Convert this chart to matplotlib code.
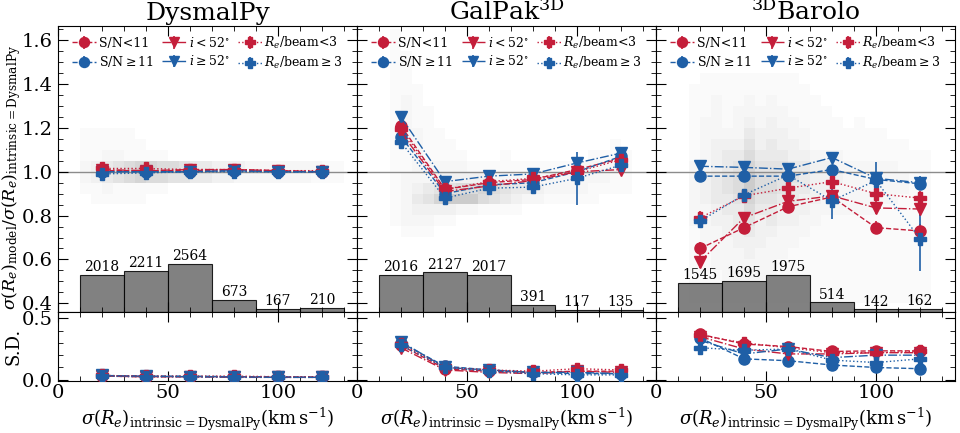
import numpy as np
import matplotlib.pyplot as plt
from matplotlib.ticker import MultipleLocator

plt.rcParams['font.family'] = 'DejaVu Serif'
plt.rcParams['mathtext.fontset'] = 'dejavuserif'

x_bins = [20, 40, 60, 80, 100, 120]
bin_edges = [10, 30, 50, 70, 90, 110, 130]

titles = ['DysmalPy', r'GalPak$^{\rm 3D}$', r'$^{\rm 3D}$Barolo']
labels = ['S/N<11', r'S/N$\geq$11', r'$i<52^{\circ}$', r'$i\geq52^{\circ}$',
          r'$R_e$/beam<3', r'$R_e$/beam$\geq$3']

# sigma(Re)_model / sigma(Re)_intrinsic, median per bin
dys_sn_lo = [1.005, 1.005, 1.005, 1.01, 1.005, 1.0]
dys_sn_hi = [1.0, 1.0, 1.0, 1.005, 1.0, 1.0]
dys_i_lo = [1.01, 1.005, 1.01, 1.01, 1.005, 1.0]
dys_i_hi = [1.0, 1.0, 1.0, 1.005, 1.0, 1.0]
dys_re_lo = [1.015, 1.015, 1.01, 1.01, 1.005, 1.005]
dys_re_hi = [0.99, 0.995, 1.0, 1.0, 1.0, 1.0]

gal_sn_lo = [1.21, 0.92, 0.95, 0.965, 1.01, 1.06]
gal_sn_hi = [1.16, 0.90, 0.94, 0.95, 1.0, 1.07]
gal_i_lo = [1.18, 0.91, 0.935, 0.96, 1.0, 1.01]
gal_i_hi = [1.25, 0.955, 0.98, 0.99, 1.04, 1.085]
gal_re_lo = [1.195, 0.92, 0.955, 0.97, 1.0, 1.055]
gal_re_hi = [1.135, 0.88, 0.925, 0.93, 0.97, 1.03]

bar_sn_lo = [0.65, 0.745, 0.84, 0.885, 0.745, 0.73]
bar_sn_hi = [0.98, 0.98, 0.98, 1.01, 0.965, 0.945]
bar_i_lo = [0.59, 0.79, 0.865, 0.89, 0.835, 0.83]
bar_i_hi = [1.025, 1.02, 1.012, 1.065, 0.97, 0.95]
bar_re_lo = [0.79, 0.89, 0.925, 0.955, 0.9, 0.88]
bar_re_hi = [0.775, 0.895, 0.985, 0.868, 0.96, 0.695]

# error bars (only a few are noticeable)
dys_err = [0.01, 0.01, 0.01, 0.01, 0.01, 0.01]
gal_err = [0.02, 0.01, 0.01, 0.01, 0.02, 0.02]
gal_re_hi_err = [0.02, 0.01, 0.01, 0.02, 0.12, 0.02]
bar_err = [0.03, 0.02, 0.02, 0.02, 0.03, 0.03]
bar_sn_hi_err = [0.02, 0.02, 0.02, 0.02, 0.08, 0.02]
bar_re_hi_err = [0.03, 0.02, 0.02, 0.085, 0.02, 0.15]

# standard deviation per bin
dys_sd_sn_lo = [0.03, 0.025, 0.025, 0.025, 0.02, 0.02]
dys_sd_sn_hi = [0.035, 0.03, 0.03, 0.025, 0.025, 0.02]
dys_sd_i_lo = [0.03, 0.025, 0.025, 0.02, 0.02, 0.02]
dys_sd_i_hi = [0.035, 0.03, 0.025, 0.025, 0.02, 0.02]
dys_sd_re_lo = [0.035, 0.03, 0.03, 0.03, 0.025, 0.025]
dys_sd_re_hi = [0.03, 0.025, 0.025, 0.02, 0.02, 0.02]

gal_sd_sn_lo = [0.28, 0.09, 0.07, 0.06, 0.07, 0.07]
gal_sd_sn_hi = [0.30, 0.11, 0.08, 0.06, 0.05, 0.05]
gal_sd_i_lo = [0.26, 0.08, 0.06, 0.05, 0.07, 0.06]
gal_sd_i_hi = [0.31, 0.10, 0.08, 0.06, 0.06, 0.05]
gal_sd_re_lo = [0.29, 0.10, 0.08, 0.07, 0.09, 0.08]
gal_sd_re_hi = [0.28, 0.10, 0.07, 0.05, 0.04, 0.04]

bar_sd_sn_lo = [0.37, 0.29, 0.27, 0.23, 0.235, 0.235]
bar_sd_sn_hi = [0.34, 0.17, 0.155, 0.12, 0.10, 0.09]
bar_sd_i_lo = [0.35, 0.25, 0.21, 0.21, 0.22, 0.22]
bar_sd_i_hi = [0.32, 0.21, 0.25, 0.18, 0.20, 0.20]
bar_sd_re_lo = [0.36, 0.30, 0.26, 0.22, 0.22, 0.23]
bar_sd_re_hi = [0.26, 0.24, 0.25, 0.16, 0.14, 0.17]

counts_dys = [2018, 2211, 2564, 673, 167, 210]
counts_gal = [2016, 2127, 2017, 391, 117, 135]
counts_bar = [1545, 1695, 1975, 514, 142, 162]

# 2D density of all galaxies, x bins of 5 km/s (0-135), y bins of 0.05 (1.65 -> 0.35)
dens_dys = [
    "000000000000000000000000000",
    "000000000000000000000000000",
    "000000000000000000000000000",
    "000000000000000000000000000",
    "000000000000000000000000000",
    "000000000000000000000000000",
    "000000000000000000000000000",
    "000000000000000000000000000",
    "000000000000000000000000000",
    "001111100000000000000000000",
    "001111110000000000000000000",
    "001122111100000000000000000",
    "002345677665443332222222110",
    "002345676655443322222221110",
    "001121111100000000000000000",
    "000111110000000000000000000",
    "000000000000000000000000000",
    "000000000000000000000000000",
    "000000000000000000000000000",
    "000000000000000000000000000",
    "000000000000000000000000000",
    "000000000000000000000000000",
    "000000000000000000000000000",
    "000000000000000000000000000",
    "000000000000000000000000000",
    "000000000000000000000000000",
]
dens_gal = [
    "000100000000000000000000000",
    "000100000000000000000000000",
    "000110000000000000000000000",
    "000110000000000000000000000",
    "000110000000000000000000000",
    "000111000000000000000000000",
    "000121000000000000000000000",
    "000121100000000000000000000",
    "000121100000000000000000000",
    "000122110000000000000000000",
    "000122111000000000000001000",
    "000112111100010000000111100",
    "000112222211111111112222100",
    "000122233333222222222221100",
    "000123455667654432222111100",
    "000124578886543221111100000",
    "000123333221111000000000000",
    "000122211000000000000000000",
    "000011100000000000000000000",
    "000000000000000000000000000",
    "000000000000000000000000000",
    "000000000000000000000000000",
    "000000000000000000000000000",
    "000000000000000000000000000",
    "000000000000000000000000000",
    "000000000000000000000000000",
]
dens_bar = [
    "000000000000000000000000000",
    "000000000000000000000000000",
    "000000000000000000000000000",
    "000000000000000000000000000",
    "000011111111100000000000000",
    "000111111111110000000000000",
    "000112112121111000000000000",
    "000112122222111100000000000",
    "000122123232211110100000000",
    "000122224333221111111000000",
    "000123335343321111111110000",
    "000123446444332221111111100",
    "000223457555443322222211100",
    "000234568665543332222221100",
    "000234568665443322222221100",
    "000234457554433222222211100",
    "000223446443332222221111100",
    "000223345343322111111111100",
    "000122334332221111111111100",
    "000122233322211111111111100",
    "000112223222111111111111100",
    "000112222221111111111111100",
    "000111222221111111111111100",
    "000111112111111111111111100",
    "000111111111111111111111100",
    "000000000000000000000000000",
]

red = '#C41E3A'
blue = '#1F5FA6'
styles = [(red, 'o', '--'), (blue, 'o', '--'), (red, 'v', '-.'),
          (blue, 'v', '-.'), (red, 'P', ':'), (blue, 'P', ':')]

panels = [
    dict(ratio=[dys_sn_lo, dys_sn_hi, dys_i_lo, dys_i_hi, dys_re_lo, dys_re_hi],
         err=[dys_err, dys_err, dys_err, dys_err, dys_err, dys_err],
         sd=[dys_sd_sn_lo, dys_sd_sn_hi, dys_sd_i_lo, dys_sd_i_hi, dys_sd_re_lo, dys_sd_re_hi],
         counts=counts_dys, dens=dens_dys),
    dict(ratio=[gal_sn_lo, gal_sn_hi, gal_i_lo, gal_i_hi, gal_re_lo, gal_re_hi],
         err=[gal_err, gal_err, gal_err, gal_err, gal_err, gal_re_hi_err],
         sd=[gal_sd_sn_lo, gal_sd_sn_hi, gal_sd_i_lo, gal_sd_i_hi, gal_sd_re_lo, gal_sd_re_hi],
         counts=counts_gal, dens=dens_gal),
    dict(ratio=[bar_sn_lo, bar_sn_hi, bar_i_lo, bar_i_hi, bar_re_lo, bar_re_hi],
         err=[bar_err, bar_sn_hi_err, bar_err, bar_err, bar_err, bar_re_hi_err],
         sd=[bar_sd_sn_lo, bar_sd_sn_hi, bar_sd_i_lo, bar_sd_i_hi, bar_sd_re_lo, bar_sd_re_hi],
         counts=counts_bar, dens=dens_bar),
]

hist_top = 15384  # counts mapped to the full height of the top panel

fig = plt.figure(figsize=(9.6, 4.33), dpi=100)
left, width = 0.0604, 0.3115

for k, p in enumerate(panels):
    ax = fig.add_axes([left + k * width, 0.2794, width, 0.6605])
    axb = fig.add_axes([left + k * width, 0.12, width, 0.1594])

    dens = np.array([[int(c) for c in row] for row in p['dens']])
    ax.imshow(dens, cmap='Greys', vmin=0, vmax=26, extent=(0, 135, 0.35, 1.65),
              aspect='auto', interpolation='nearest', origin='upper', zorder=0)

    tr = ax.get_xaxis_transform()
    for j, c in enumerate(p['counts']):
        xc = (bin_edges[j] + bin_edges[j + 1]) / 2
        ax.bar(xc, c / hist_top, width=20, bottom=0, transform=tr,
               color='0.42', alpha=0.85, edgecolor='k', lw=0.8, zorder=1)
        ax.text(xc, c / hist_top + 0.003, str(c), transform=tr, ha='center',
                va='bottom', fontsize=10, zorder=2)

    ax.axhline(1.0, color='0.55', lw=1, zorder=1.5)

    handles = []
    for s in range(6):
        col, mk, ls = styles[s]
        h = ax.errorbar(x_bins, p['ratio'][s], yerr=p['err'][s], color=col, marker=mk,
                        ls=ls, lw=1, ms=8, elinewidth=1.2, capsize=0, zorder=3,
                        label=labels[s])
        handles.append(h)
        axb.plot(x_bins, p['sd'][s], color=col, marker=mk, ls=ls, lw=1, ms=8, zorder=3)

    ax.legend(handles=handles, loc='upper center', ncol=3, frameon=False, fontsize=9,
              handlelength=1.9, handletextpad=0.2, columnspacing=0.7,
              labelspacing=0.35, borderaxespad=0.3, markerscale=0.9)

    ax.set_xlim(0, 136)
    ax.set_ylim(0.36, 1.665)
    axb.set_xlim(0, 136)
    axb.set_ylim(-0.01, 0.55)
    ax.set_title(titles[k], fontsize=18, pad=4)

    for a in (ax, axb):
        a.xaxis.set_major_locator(MultipleLocator(50))
        a.xaxis.set_minor_locator(MultipleLocator(10))
        a.tick_params(which='both', direction='in', top=True, right=True, labelsize=14)
        a.tick_params(which='major', length=7)
        a.tick_params(which='minor', length=3.5)
    ax.yaxis.set_major_locator(MultipleLocator(0.2))
    ax.yaxis.set_minor_locator(MultipleLocator(0.05))
    axb.yaxis.set_major_locator(MultipleLocator(0.5))
    axb.yaxis.set_minor_locator(MultipleLocator(0.1))
    ax.tick_params(labelbottom=False)
    axb.tick_params(axis='x', pad=2)
    axb.set_xlabel(r'$\sigma(R_e)_{\rm intrinsic=DysmalPy}(\rm km\,s^{-1})$',
                   fontsize=13, labelpad=3)

    if k == 0:
        ax.set_ylabel(r'$\sigma(R_e)_{\rm model}/\sigma(R_e)_{\rm intrinsic=DysmalPy}$',
                      fontsize=12.5)
        ax.yaxis.set_label_coords(-0.118, 0.47)
        axb.set_ylabel('S.D.', fontsize=13)
        axb.yaxis.set_label_coords(-0.118, 0.5)
    else:
        ax.tick_params(labelleft=False)
        axb.tick_params(labelleft=False)

fig.savefig('out.png', dpi=100)
